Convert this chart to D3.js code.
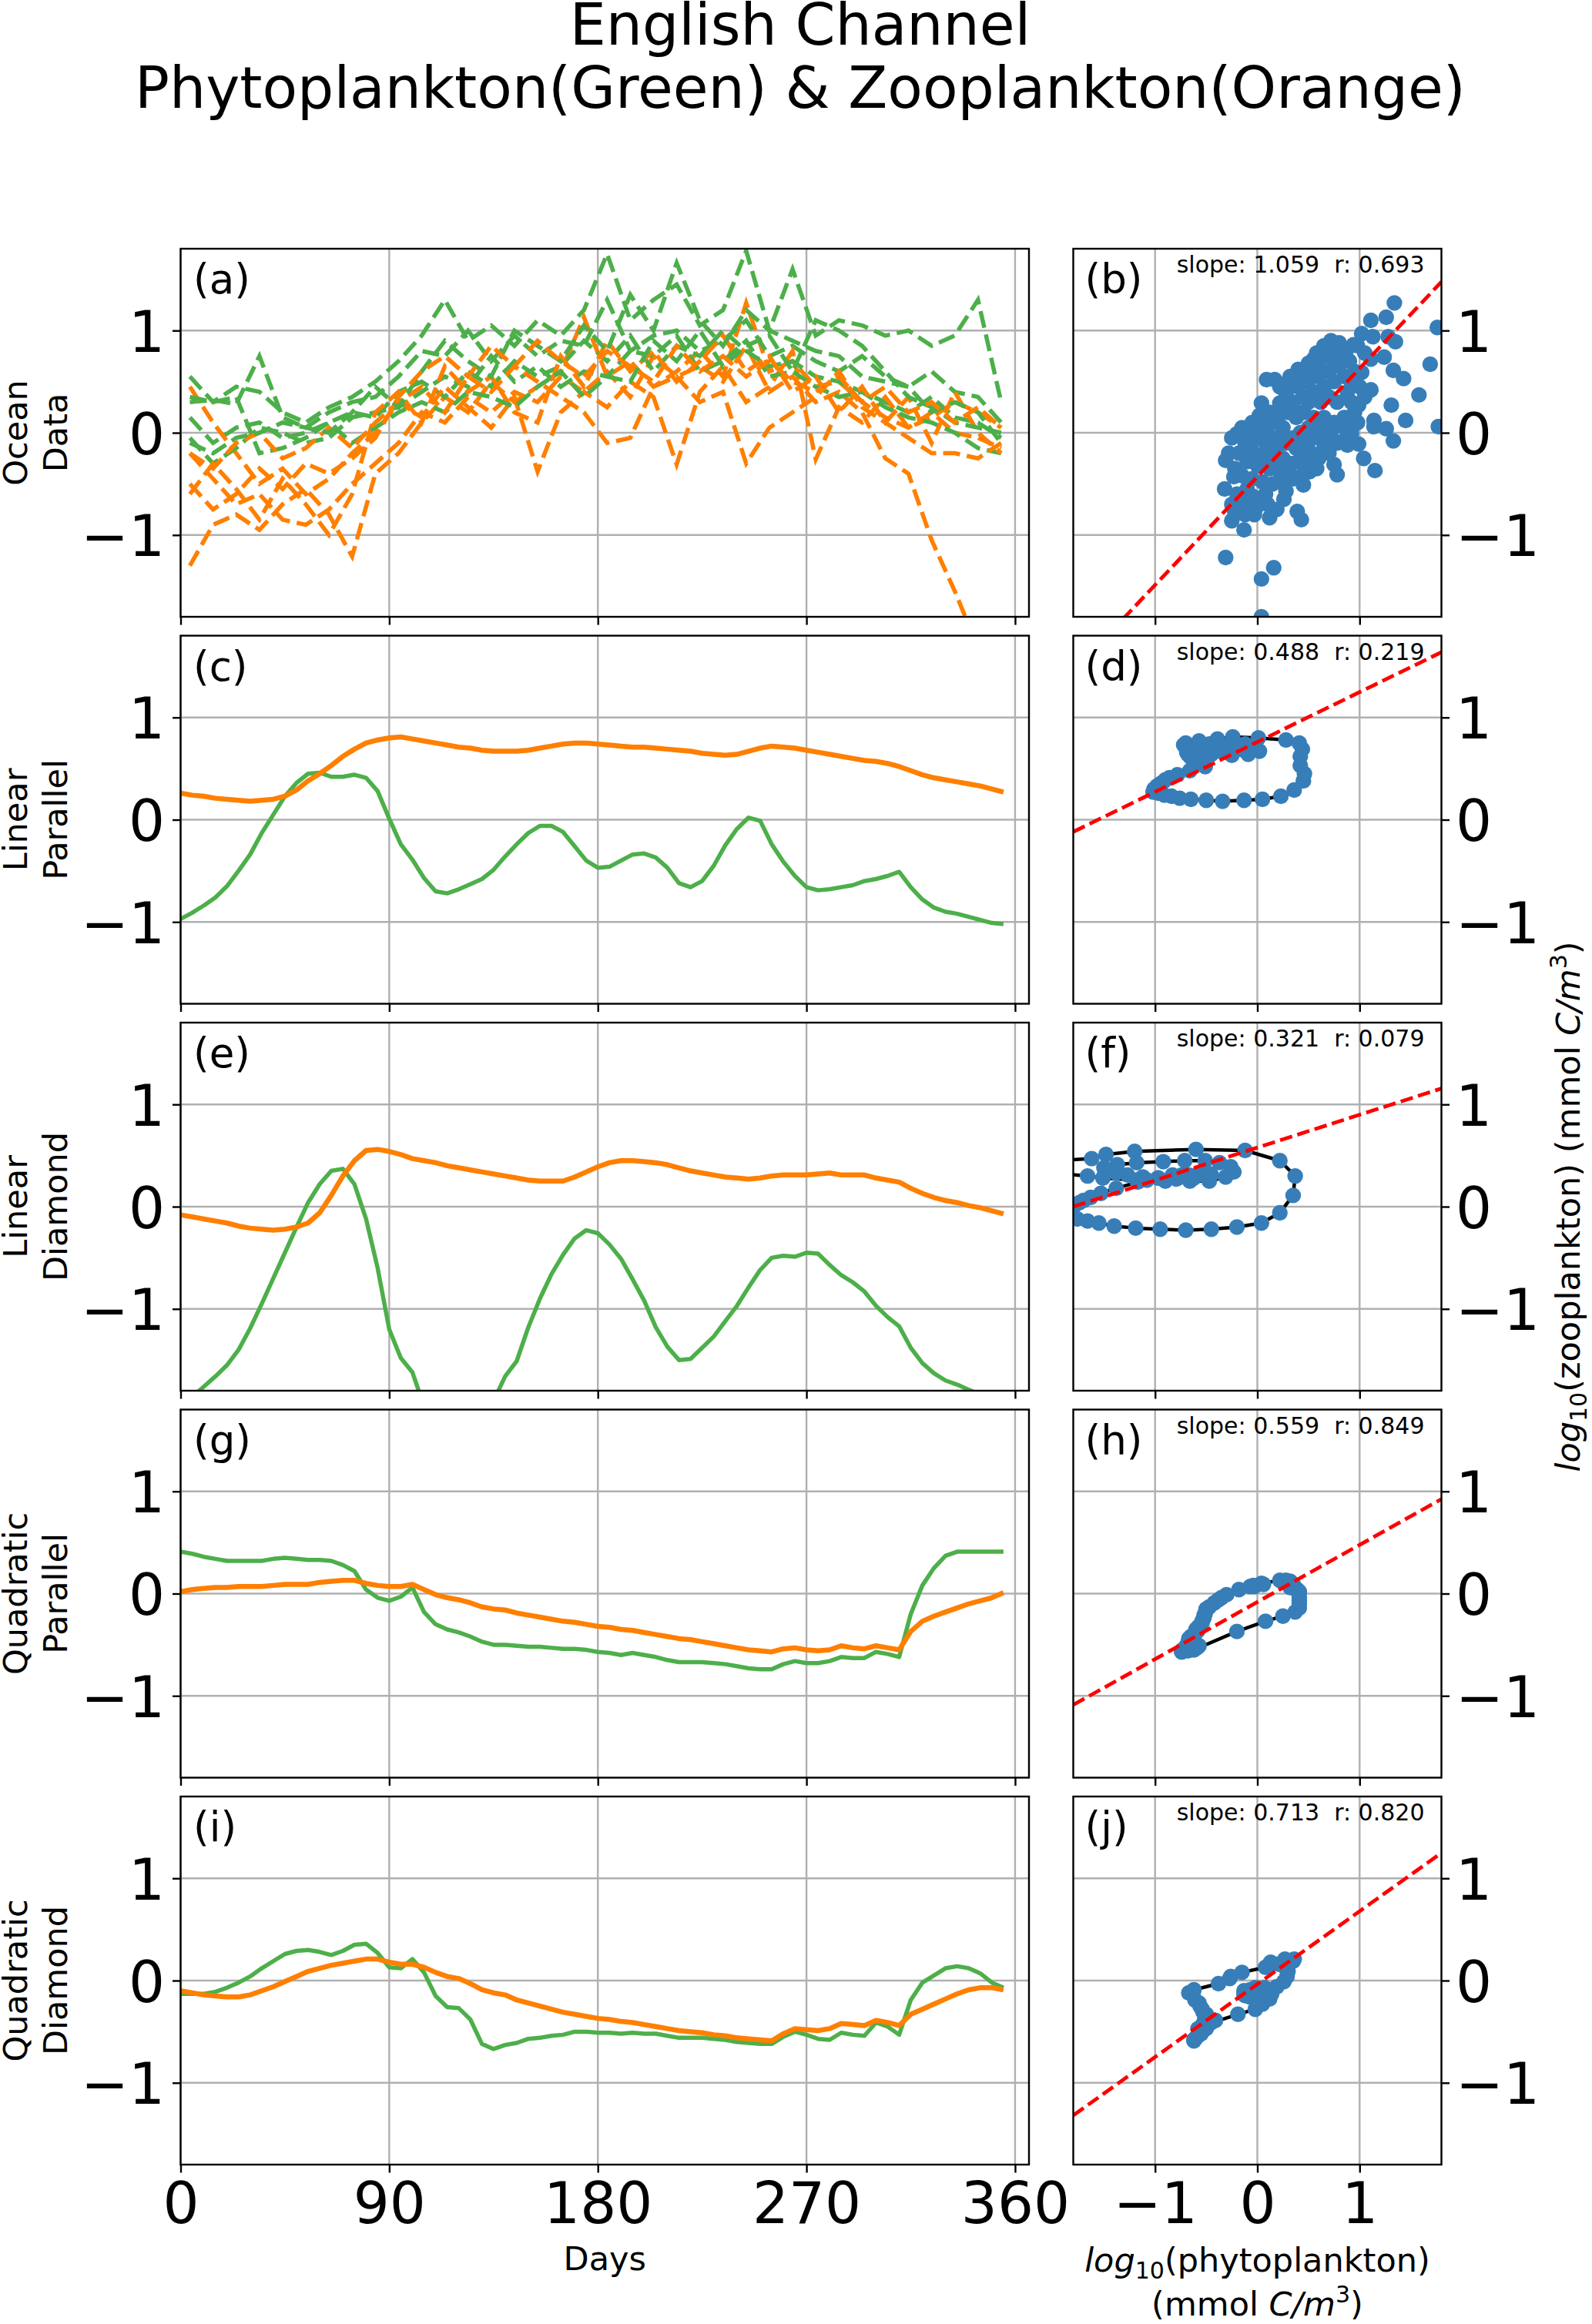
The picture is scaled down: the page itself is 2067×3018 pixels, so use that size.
<!DOCTYPE html>
<html><head><meta charset="utf-8">
<script src="https://cdn.jsdelivr.net/npm/d3@7"></script>
<style>body{margin:0;background:#fff}text{font-family:"DejaVu Sans",sans-serif}</style>
</head><body>
<svg id="c" width="2067" height="3018" xmlns="http://www.w3.org/2000/svg"></svg>
<script>
// ---------------- DATA ----------------
const titleLines = ["English Channel", "Phytoplankton(Green) & Zooplankton(Orange)"];
const rowLabels = [["Ocean","Data"],["Linear","Parallel"],["Linear","Diamond"],["Quadratic","Parallel"],["Quadratic","Diamond"]];
const panelLetters = [["(a)","(b)"],["(c)","(d)"],["(e)","(f)"],["(g)","(h)"],["(i)","(j)"]];
const dayTicks = [0,90,180,270,360];
const logTicks = [-1,0,1];
const slopes = [1.059,0.488,0.321,0.559,0.713];
const rValues = [0.693,0.219,0.079,0.849,0.820];
const intercepts = [-0.43,0.76,0.578,-0.082,-0.035];

// ocean observations (panel a), sampled days
const oceanDays = [4,14,24,34,44,54,64,74,84,94,104,114,124,134,144,154,164,174,184,194,204,214,224,234,244,254,264,274,284,294,304,314,324,334,344,354];
const oceanPhyto1 = [0.55,0.30,0.45,0.40,0.20,0.10,0.25,0.35,0.50,0.70,0.95,1.30,0.90,1.05,0.85,1.10,0.95,1.20,1.75,1.10,1.30,1.45,1.05,1.20,1.78,1.00,1.60,0.95,1.10,1.05,0.95,1.00,0.85,0.95,1.30,0.30];
const oceanPhyto2 = [0.30,0.32,0.28,0.75,0.15,0.05,0.20,0.30,0.35,0.55,0.80,0.75,1.00,0.70,0.95,0.75,0.90,0.85,1.30,0.80,0.95,1.00,0.80,0.90,1.10,0.75,0.85,0.70,0.60,0.75,0.55,0.45,0.60,0.40,0.35,0.10];
const oceanPhyto3 = [0.15,-0.10,0.05,0.10,-0.05,0.00,0.10,0.20,0.15,0.40,0.50,0.35,0.60,0.45,0.70,0.55,0.65,0.90,0.70,0.95,0.60,0.85,0.75,1.00,0.80,0.65,0.70,0.55,0.50,0.40,0.30,0.20,0.35,0.15,0.10,-0.05];
const oceanPhyto4 = [-0.05,-0.30,-0.15,0.05,0.00,-0.10,-0.05,0.15,0.20,0.25,0.40,0.55,0.45,0.75,0.50,0.65,0.45,0.60,0.55,0.80,0.75,0.95,0.60,0.70,0.90,0.55,0.60,0.45,0.35,0.40,0.25,0.15,0.10,0.00,-0.15,-0.20];
const oceanPhyto5 = [0.35,0.30,0.35,-0.20,-0.15,-0.05,0.10,-0.10,0.05,0.20,0.30,0.20,0.40,0.35,0.25,0.45,0.60,0.35,0.55,0.50,0.90,0.70,1.00,0.65,0.85,0.95,0.60,1.10,1.00,0.85,0.60,0.35,0.25,0.10,0.05,0.00];
const oceanPhyto6 = [-0.10,-0.20,-0.05,0.00,0.10,0.05,0.00,0.20,0.45,0.25,0.60,0.90,0.70,0.55,1.00,0.85,0.70,1.05,0.80,1.35,1.00,1.66,1.10,0.85,1.20,1.00,0.90,0.80,0.75,0.55,0.50,0.45,0.20,0.30,0.20,-0.10];
const oceanZoo1 = [-1.30,-0.90,-0.80,-0.95,-0.70,-0.55,-0.80,-1.21,-0.40,-0.20,0.10,0.35,0.20,0.50,0.30,0.45,0.60,1.13,0.55,0.70,0.45,0.60,0.80,0.55,1.27,0.60,0.70,0.45,0.50,0.30,0.15,0.05,0.20,0.00,-0.05,-0.15];
const oceanZoo2 = [-0.20,-0.45,-0.70,-0.60,-0.85,-0.90,-0.75,-0.50,-0.30,-0.10,0.20,0.10,0.35,0.20,0.40,0.30,0.55,0.40,0.60,0.35,0.75,0.55,0.65,0.50,0.85,0.40,0.55,0.30,0.40,0.20,-0.25,-0.40,-1.05,-1.55,-2.10,-2.60];
const oceanZoo3 = [0.45,0.10,-0.20,-0.50,-0.35,-0.60,-0.45,-0.20,0.00,0.30,0.15,0.45,0.25,0.05,0.35,-0.38,0.20,0.40,0.25,0.50,0.35,-0.31,0.40,0.65,0.30,0.45,0.80,-0.26,0.25,0.10,0.35,0.05,0.15,0.30,0.20,0.05];
const oceanZoo4 = [-0.60,-0.30,-0.55,-0.85,-0.45,-0.70,-1.00,-0.60,0.20,0.40,0.10,0.65,0.40,0.55,0.20,0.10,0.75,0.45,0.90,0.60,0.80,0.50,0.70,0.95,0.60,0.75,0.40,0.55,0.20,0.45,0.10,0.35,-0.10,0.40,0.00,-0.20];
const oceanZoo5 = [-0.20,-0.35,-0.10,0.00,-0.25,-0.15,0.05,-0.15,0.10,0.30,0.45,0.20,0.55,0.40,0.65,0.50,0.35,0.20,-0.10,-0.05,0.45,0.55,0.30,0.40,-0.30,0.05,0.20,0.35,0.60,0.25,0.10,-0.05,-0.20,-0.20,-0.25,-0.10];
const oceanZoo6 = [-0.50,-0.75,-0.60,-0.35,-0.55,-0.30,-0.40,-0.25,-0.05,0.35,0.60,0.75,0.55,0.85,0.65,0.90,0.70,0.55,0.80,0.65,0.50,0.85,0.60,0.75,0.55,0.70,0.50,0.40,0.55,0.30,0.45,0.20,0.30,0.10,0.25,0.05];

// panel b scatter (log10 phyto, log10 zoo)
const obsPhyto = [1.34,1.11,1.26,1.76,1.28,1.35,1.69,1.24,1.33,1.43,1.58,1.31,1.45,1.77,1.33,1.26,1.14,1.04,1.15,0.99,0.75,0.78,0.65,0.84,0.45,0.28,0.26,0.19,0.39,0.43,0.12,-0.03,0.05,-0.13,-0.25,-0.22,-0.32,-0.31,-0.20,-0.23,-0.31,0.16,0.04,0.04,0.09,0.17,0.24,0.04,0.22,0.02,-0.03,0.71,0.55,0.43,0.31,0.94,1.02,1.13,1.11,1.02,1.11,0.99,1.14,0.51,0.51,0.31,0.51,
 0.60,0.65,0.70,0.75,0.80,0.85,0.55,0.50,0.45,0.62,0.70,0.78,0.88,0.92,0.95,0.90,0.82,0.75,0.68,0.60,0.55,0.48,0.40,0.35,0.30,0.38,0.45,0.55,0.65,0.75,0.85,0.95,0.92,0.85,0.72,0.62,0.50,0.42,0.35,0.25,0.15,0.10,0.20,0.28,0.38,0.45,0.55,0.65,0.78,0.18,0.08,0.00,-0.08,-0.12,-0.05,0.05,0.15,0.25,0.32,0.40,0.45,0.35,0.22,0.12,0.00,-0.10,-0.18,-0.22,-0.15,-0.05,0.05,0.15,0.25,-0.10,-0.20,-0.25,-0.15,-0.05,0.08,-0.02,-0.12,0.10,-0.28,-0.25,-0.15,-0.05,0.05,0.12,0.20,0.28,0.22,0.32,0.40,0.50,0.58,0.65,0.72,0.80,0.88,0.98,1.05,1.00,1.05,0.98,0.92,0.88,0.70,0.60,0.58,0.48];
const obsZoo = [1.27,1.10,1.13,1.03,0.94,0.89,0.67,0.74,0.61,0.53,0.37,0.27,0.12,0.06,-0.08,0.04,0.06,-0.25,-0.37,-0.11,-0.31,-0.41,-0.08,-0.08,-0.51,-0.57,-0.65,-0.75,-0.77,-0.85,-0.83,-0.80,-0.68,-0.95,-0.86,-0.78,-0.55,-0.27,-0.01,-0.43,-1.22,-1.32,-1.43,-1.80,0.52,0.52,0.47,0.29,0.29,0.17,0.09,0.84,0.72,0.57,0.44,0.86,0.97,0.94,0.72,0.59,0.42,0.27,0.12,-0.28,-0.38,-0.38,-0.18,
 0.55,0.45,0.60,0.50,0.65,0.55,0.40,0.30,0.35,0.30,0.35,0.30,0.40,0.50,0.60,0.70,0.75,0.70,0.75,0.65,0.55,0.50,0.45,0.30,0.20,0.15,0.20,0.15,0.15,0.10,0.15,0.20,0.30,0.05,0.00,0.05,0.05,0.00,-0.05,0.05,0.10,0.00,-0.05,-0.10,-0.15,-0.10,-0.05,-0.15,-0.10,-0.15,-0.10,-0.05,0.00,-0.10,-0.18,-0.22,-0.25,-0.25,-0.30,-0.28,-0.40,-0.45,-0.38,-0.35,-0.32,-0.28,-0.20,-0.35,-0.42,-0.45,-0.48,-0.50,-0.48,-0.55,-0.60,-0.70,-0.68,-0.62,-0.60,-0.75,-0.80,-0.70,-0.20,-0.05,0.05,0.10,0.05,0.20,0.15,0.35,0.45,0.55,0.62,0.68,0.78,0.85,0.90,0.88,0.82,0.85,0.78,0.45,0.35,0.10,0.00,-0.12,-0.20,-0.25,-0.35,-0.22];

// model output, every 5 days
const modelDays = [0,5,10,15,20,25,30,35,40,45,50,55,60,65,70,75,80,85,90,95,100,105,110,115,120,125,130,135,140,145,150,155,160,165,170,175,180,185,190,195,200,205,210,215,220,225,230,235,240,245,250,255,260,265,270,275,280,285,290,295,300,305,310,315,320,325,330,335,340,345,350,355];
const linParPhyto = [-0.97,-0.91,-0.84,-0.76,-0.65,-0.50,-0.34,-0.13,0.05,0.23,0.36,0.45,0.46,0.42,0.42,0.44,0.41,0.28,0.01,-0.24,-0.39,-0.57,-0.70,-0.72,-0.68,-0.63,-0.58,-0.49,-0.36,-0.24,-0.13,-0.06,-0.06,-0.12,-0.26,-0.40,-0.47,-0.46,-0.40,-0.34,-0.33,-0.37,-0.47,-0.62,-0.66,-0.60,-0.45,-0.25,-0.09,0.02,-0.01,-0.24,-0.41,-0.55,-0.66,-0.69,-0.68,-0.66,-0.64,-0.60,-0.58,-0.55,-0.51,-0.66,-0.78,-0.86,-0.90,-0.92,-0.95,-0.98,-1.01,-1.02];
const linParZoo = [0.26,0.24,0.23,0.21,0.20,0.19,0.18,0.19,0.20,0.23,0.29,0.38,0.45,0.53,0.62,0.69,0.75,0.78,0.80,0.81,0.79,0.77,0.75,0.73,0.71,0.70,0.68,0.67,0.67,0.67,0.68,0.70,0.72,0.74,0.75,0.75,0.74,0.73,0.72,0.71,0.71,0.70,0.69,0.68,0.67,0.65,0.64,0.63,0.64,0.67,0.70,0.72,0.71,0.70,0.68,0.66,0.64,0.62,0.60,0.58,0.57,0.55,0.52,0.48,0.44,0.41,0.39,0.37,0.35,0.33,0.30,0.27];
const linDiaPhyto = [-1.95,-1.86,-1.76,-1.66,-1.55,-1.40,-1.19,-0.95,-0.70,-0.45,-0.20,0.04,0.22,0.35,0.37,0.22,-0.12,-0.60,-1.20,-1.48,-1.62,-1.95,-2.30,-2.50,-2.55,-2.40,-2.15,-1.90,-1.66,-1.51,-1.18,-0.90,-0.66,-0.47,-0.31,-0.23,-0.26,-0.37,-0.51,-0.71,-0.92,-1.18,-1.37,-1.50,-1.49,-1.38,-1.27,-1.12,-0.97,-0.79,-0.62,-0.50,-0.48,-0.49,-0.45,-0.46,-0.57,-0.67,-0.74,-0.83,-0.97,-1.08,-1.17,-1.38,-1.53,-1.63,-1.70,-1.74,-1.79,-1.84,-1.89,-1.94];
const linDiaZoo = [-0.08,-0.10,-0.12,-0.14,-0.16,-0.19,-0.21,-0.22,-0.23,-0.22,-0.20,-0.16,-0.06,0.11,0.30,0.45,0.55,0.56,0.54,0.51,0.47,0.45,0.43,0.40,0.38,0.36,0.34,0.32,0.30,0.28,0.26,0.25,0.25,0.25,0.29,0.34,0.39,0.43,0.45,0.45,0.44,0.43,0.41,0.38,0.35,0.33,0.31,0.29,0.28,0.27,0.28,0.30,0.31,0.31,0.31,0.32,0.33,0.31,0.31,0.31,0.28,0.26,0.24,0.18,0.13,0.09,0.06,0.04,0.01,-0.01,-0.04,-0.07];
const quadParPhyto = [0.41,0.39,0.36,0.34,0.32,0.32,0.32,0.32,0.34,0.35,0.34,0.33,0.33,0.32,0.28,0.22,0.04,-0.04,-0.07,-0.03,0.06,-0.18,-0.30,-0.35,-0.38,-0.42,-0.47,-0.50,-0.50,-0.51,-0.52,-0.52,-0.53,-0.54,-0.54,-0.55,-0.57,-0.58,-0.60,-0.58,-0.60,-0.62,-0.65,-0.67,-0.67,-0.67,-0.68,-0.69,-0.71,-0.73,-0.74,-0.74,-0.69,-0.66,-0.68,-0.68,-0.66,-0.62,-0.63,-0.63,-0.57,-0.59,-0.62,-0.20,0.08,0.25,0.37,0.41,0.41,0.41,0.41,0.41];
const quadParZoo = [0.02,0.04,0.05,0.06,0.06,0.07,0.07,0.07,0.08,0.09,0.09,0.09,0.11,0.12,0.13,0.13,0.10,0.08,0.07,0.07,0.09,0.04,-0.01,-0.04,-0.06,-0.09,-0.13,-0.15,-0.16,-0.19,-0.21,-0.23,-0.25,-0.27,-0.28,-0.30,-0.32,-0.33,-0.35,-0.36,-0.38,-0.40,-0.42,-0.44,-0.45,-0.47,-0.49,-0.51,-0.53,-0.55,-0.56,-0.57,-0.54,-0.53,-0.55,-0.56,-0.55,-0.51,-0.53,-0.54,-0.51,-0.53,-0.55,-0.37,-0.27,-0.22,-0.18,-0.14,-0.10,-0.07,-0.04,0.01];
const quadDiaPhyto = [-0.13,-0.13,-0.13,-0.11,-0.07,-0.02,0.04,0.12,0.19,0.26,0.29,0.30,0.28,0.25,0.29,0.35,0.36,0.27,0.13,0.12,0.21,0.08,-0.15,-0.26,-0.27,-0.38,-0.62,-0.67,-0.63,-0.61,-0.57,-0.56,-0.54,-0.53,-0.50,-0.50,-0.51,-0.51,-0.52,-0.51,-0.52,-0.52,-0.54,-0.56,-0.56,-0.56,-0.57,-0.58,-0.60,-0.61,-0.62,-0.62,-0.55,-0.50,-0.53,-0.57,-0.58,-0.51,-0.53,-0.54,-0.41,-0.45,-0.53,-0.19,-0.02,0.05,0.12,0.14,0.12,0.07,-0.02,-0.07];
const quadDiaZoo = [-0.10,-0.12,-0.14,-0.15,-0.16,-0.16,-0.14,-0.10,-0.06,-0.01,0.04,0.09,0.12,0.15,0.17,0.19,0.21,0.21,0.18,0.16,0.16,0.13,0.08,0.04,0.02,-0.03,-0.09,-0.12,-0.14,-0.19,-0.22,-0.25,-0.28,-0.31,-0.33,-0.35,-0.37,-0.38,-0.40,-0.41,-0.43,-0.45,-0.47,-0.49,-0.50,-0.51,-0.53,-0.54,-0.56,-0.57,-0.58,-0.59,-0.52,-0.47,-0.48,-0.49,-0.47,-0.42,-0.43,-0.44,-0.39,-0.41,-0.44,-0.33,-0.28,-0.23,-0.18,-0.13,-0.09,-0.07,-0.07,-0.09];

// ---------------- LAYOUT / STYLE ----------------
const GREEN = "#4daf4a", ORANGE = "#ff7f00", BLUE = "#377eb8", GRID = "#b0b0b0";
const rowTops = [323, 825.5, 1328, 1830.5, 2333];
const PH = 478;
const LX0 = 234.5, LX1 = 1336, RX0 = 1393.5, RX1 = 1871.5;
const TICK = 10.5, SW = 2.4;
const TICKFS = 74, LABFS = 43;

const oceanPhyto = [oceanPhyto1, oceanPhyto2, oceanPhyto3, oceanPhyto4, oceanPhyto5, oceanPhyto6];
const oceanZoo = [oceanZoo1, oceanZoo2, oceanZoo3, oceanZoo4, oceanZoo5, oceanZoo6];
const models = [
  {phyto: linParPhyto, zoo: linParZoo},
  {phyto: linDiaPhyto, zoo: linDiaZoo},
  {phyto: quadParPhyto, zoo: quadParZoo},
  {phyto: quadDiaPhyto, zoo: quadDiaZoo}
];

const svg = d3.select("#c");
svg.append("rect").attr("width", 2067).attr("height", 3018).attr("fill", "#fff");
const defs = svg.append("defs");

const xDay = d3.scaleLinear().domain([0, 366]).range([LX0, LX1]);
const xLog = d3.scaleLinear().domain([-1.8, 1.8]).range([RX0, RX1]);
const fmt = d => d < 0 ? "\u2212" + Math.abs(d) : String(d);

// title
svg.append("text").attr("x", 1039).attr("y", 58).attr("text-anchor", "middle")
  .attr("font-size", 74.5).text(titleLines[0]);
svg.append("text").attr("x", 1039).attr("y", 140).attr("text-anchor", "middle")
  .attr("font-size", 74.5).text(titleLines[1]);

function grid(g, x0, x1, y, xs, xticks) {
  xticks.forEach(t => g.append("line").attr("x1", xs(t)).attr("x2", xs(t))
    .attr("y1", y.range()[1]).attr("y2", y.range()[0]).attr("stroke", GRID).attr("stroke-width", SW));
  logTicks.forEach(t => g.append("line").attr("x1", x0).attr("x2", x1)
    .attr("y1", y(t)).attr("y2", y(t)).attr("stroke", GRID).attr("stroke-width", SW));
}

function styleAxis(g) {
  g.select(".domain").remove();
  g.selectAll(".tick line").attr("stroke", "#000").attr("stroke-width", SW);
  g.selectAll(".tick text").attr("font-size", TICKFS).attr("font-family", "DejaVu Sans").attr("fill", "#000");
}

rowTops.forEach((top, r) => {
  const y = d3.scaleLinear().domain([-1.8, 1.8]).range([top + PH, top]);
  const last = r === rowTops.length - 1;

  // ---------- left panel ----------
  const cidL = "clipL" + r, cidR = "clipR" + r;
  defs.append("clipPath").attr("id", cidL).append("rect")
    .attr("x", LX0).attr("y", top).attr("width", LX1 - LX0).attr("height", PH);
  defs.append("clipPath").attr("id", cidR).append("rect")
    .attr("x", RX0).attr("y", top).attr("width", RX1 - RX0).attr("height", PH);

  const gL = svg.append("g");
  grid(gL, LX0, LX1, y, xDay, dayTicks);
  const dL = gL.append("g").attr("clip-path", `url(#${cidL})`);
  const lineDay = (days) => d3.line().x((d, i) => xDay(days[i])).y(d => y(d));

  if (r === 0) {
    oceanPhyto.forEach((s, k) => {
      dL.append("path").attr("d", lineDay(oceanDays)(s)).attr("fill", "none")
        .attr("stroke", GREEN).attr("stroke-width", 5.5).attr("stroke-dasharray", "22,9");
      dL.append("path").attr("d", lineDay(oceanDays)(oceanZoo[k])).attr("fill", "none")
        .attr("stroke", ORANGE).attr("stroke-width", 5.5).attr("stroke-dasharray", "22,9");
    });
  } else {
    const m = models[r - 1];
    dL.append("path").attr("d", lineDay(modelDays)(m.phyto)).attr("fill", "none")
      .attr("stroke", GREEN).attr("stroke-width", 5.5).attr("stroke-linejoin", "round");
    dL.append("path").attr("d", lineDay(modelDays)(m.zoo)).attr("fill", "none")
      .attr("stroke", ORANGE).attr("stroke-width", 6.5).attr("stroke-linejoin", "round");
  }
  gL.append("rect").attr("x", LX0).attr("y", top).attr("width", LX1 - LX0).attr("height", PH)
    .attr("fill", "none").attr("stroke", "#000").attr("stroke-width", SW);

  const axBL = gL.append("g").attr("transform", `translate(0,${top + PH})`)
    .call(d3.axisBottom(xDay).tickValues(dayTicks).tickSize(TICK).tickFormat(last ? fmt : () => ""));
  styleAxis(axBL);
  axBL.selectAll(".tick text").attr("y", 76).attr("dy", 0);
  const axLL = gL.append("g").attr("transform", `translate(${LX0},0)`)
    .call(d3.axisLeft(y).tickValues(logTicks).tickSize(TICK).tickFormat(fmt));
  styleAxis(axLL);
  axLL.selectAll(".tick text").attr("x", -20.5).attr("dy", 0).attr("y", 27).attr("text-anchor", "end");

  gL.append("text").attr("x", LX0 + 16.5).attr("y", top + 58).attr("font-size", 53).text(panelLetters[r][0]);

  // row label
  const cy = top + PH / 2;
  rowLabels[r].forEach((t, j) => {
    svg.append("text").attr("transform", `translate(${35 + j * 52},${cy}) rotate(-90)`)
      .attr("text-anchor", "middle").attr("font-size", LABFS).text(t);
  });

  // ---------- right panel ----------
  const gR = svg.append("g");
  grid(gR, RX0, RX1, y, xLog, logTicks);
  const dR = gR.append("g").attr("clip-path", `url(#${cidR})`);
  let px, pz;
  if (r === 0) { px = obsPhyto; pz = obsZoo; }
  else {
    px = models[r - 1].phyto; pz = models[r - 1].zoo;
    dR.append("path").attr("d", d3.line().x((d, i) => xLog(px[i])).y((d, i) => y(pz[i]))(px))
      .attr("fill", "none").attr("stroke", "#000").attr("stroke-width", 4.5).attr("stroke-linejoin", "round");
  }
  dR.selectAll("circle.pt").data(px).enter().append("circle").attr("class", "pt")
    .attr("cx", d => xLog(d)).attr("cy", (d, i) => y(pz[i])).attr("r", 10.2).attr("fill", BLUE);
  dR.append("line")
    .attr("x1", xLog(-1.8)).attr("y1", y(intercepts[r] + slopes[r] * -1.8))
    .attr("x2", xLog(1.8)).attr("y2", y(intercepts[r] + slopes[r] * 1.8))
    .attr("stroke", "#ff0000").attr("stroke-width", 4.8).attr("stroke-dasharray", "16.5,7");
  gR.append("rect").attr("x", RX0).attr("y", top).attr("width", RX1 - RX0).attr("height", PH)
    .attr("fill", "none").attr("stroke", "#000").attr("stroke-width", SW);

  const axBR = gR.append("g").attr("transform", `translate(0,${top + PH})`)
    .call(d3.axisBottom(xLog).tickValues(logTicks).tickSize(TICK).tickFormat(last ? fmt : () => ""));
  styleAxis(axBR);
  axBR.selectAll(".tick text").attr("y", 76).attr("dy", 0);
  const axRR = gR.append("g").attr("transform", `translate(${RX1},0)`)
    .call(d3.axisRight(y).tickValues(logTicks).tickSize(TICK).tickFormat(fmt));
  styleAxis(axRR);
  axRR.selectAll(".tick text").attr("x", 18.5).attr("dy", 0).attr("y", 27).attr("text-anchor", "start");

  gR.append("text").attr("x", RX0 + 15).attr("y", top + 58).attr("font-size", 53).text(panelLetters[r][1]);
  gR.append("text").attr("x", RX1 - 22).attr("y", top + 31).attr("font-size", 30)
    .attr("text-anchor", "end").style("white-space", "pre")
    .text(`slope: ${slopes[r].toFixed(3)}  r: ${rValues[r].toFixed(3)}`);
});

// axis titles
svg.append("text").attr("x", (LX0 + LX1) / 2).attr("y", 2948).attr("text-anchor", "middle")
  .attr("font-size", LABFS).text("Days");

const bl1 = svg.append("text").attr("x", (RX0 + RX1) / 2).attr("y", 2950).attr("text-anchor", "middle")
  .attr("font-size", LABFS).style("white-space", "pre");
bl1.append("tspan").attr("font-style", "italic").text("log");
bl1.append("tspan").attr("font-size", 30).attr("dy", 9).text("10");
bl1.append("tspan").attr("dy", -9).text("(phytoplankton)");
const bl2 = svg.append("text").attr("x", (RX0 + RX1) / 2).attr("y", 3007).attr("text-anchor", "middle")
  .attr("font-size", LABFS).style("white-space", "pre");
bl2.append("tspan").text("(mmol ");
bl2.append("tspan").attr("font-style", "italic").text("C/m");
bl2.append("tspan").attr("font-size", 30).attr("dy", -17).text("3");
bl2.append("tspan").attr("dy", 17).text(")");

const yl = svg.append("text").attr("transform", `translate(2051,1567) rotate(-90)`)
  .attr("text-anchor", "middle").attr("font-size", LABFS).style("white-space", "pre");
yl.append("tspan").attr("font-style", "italic").text("log");
yl.append("tspan").attr("font-size", 30).attr("dy", 9).text("10");
yl.append("tspan").attr("dy", -9).text("(zooplankton) (mmol ");
yl.append("tspan").attr("font-style", "italic").text("C/m");
yl.append("tspan").attr("font-size", 30).attr("dy", -17).text("3");
yl.append("tspan").attr("dy", 17).text(")");
</script>
</body></html>
